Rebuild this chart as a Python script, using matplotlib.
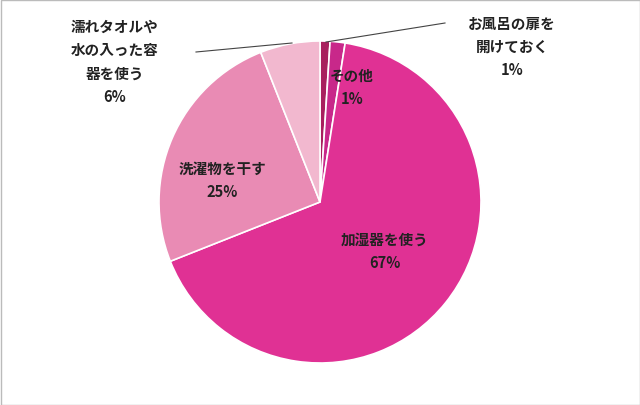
import matplotlib
matplotlib.use("Agg")
import matplotlib.pyplot as plt

plt.rcParams['font.family'] = ['Noto Sans CJK JP', 'DejaVu Sans']

labels = ['お風呂の扉を\n開けておく', 'その他', '加湿器を使う', '洗濯物を干す', '濡れタオルや\n水の入った容\n器を使う']
values = [1, 1.5, 66.5, 25, 6]
pct = ['1%', '1%', '67%', '25%', '6%']
colors = ['#A8205E', '#C8288A', '#E03194', '#E98BB4', '#F2B8CF']

fig = plt.figure(figsize=(6.4, 4.06), dpi=100)

pax = fig.add_axes([(320-161)/640, 1-(203+161)/406, 322/640, 322/406])
pax.pie(values, colors=colors, startangle=90, counterclock=False,
        wedgeprops=dict(edgecolor='white', linewidth=1.2))
pax.set_xlim(-1, 1); pax.set_ylim(-1, 1)
pax.set_aspect('equal')

ax = fig.add_axes([0, 0, 1, 1])
ax.patch.set_alpha(0)
ax.set_xlim(0, 640); ax.set_ylim(406, 0)
ax.axis('off')
ax.add_patch(plt.Rectangle((0.5, 0.5), 639, 405, fill=False, ec='#BBBBBB', lw=1))

fs = 10.5
kw = dict(fontsize=fs, fontweight='bold', color='#222222', ha='center', va='center', linespacing=1.55)
ax.text(512, 47, labels[0] + '\n' + pct[0], **kw)
ax.text(352, 87, labels[1] + '\n' + pct[1], **kw)
ax.text(385, 251, labels[2] + '\n' + pct[2], **kw)
ax.text(222, 180, labels[3] + '\n' + pct[3], **kw)
ax.text(115, 62, labels[4] + '\n' + pct[4], **kw)
ax.plot([326, 445], [43, 24], color='#444444', lw=0.8)
ax.plot([196, 292], [53, 44], color='#444444', lw=0.8)
fig.savefig('out.png', dpi=100)
